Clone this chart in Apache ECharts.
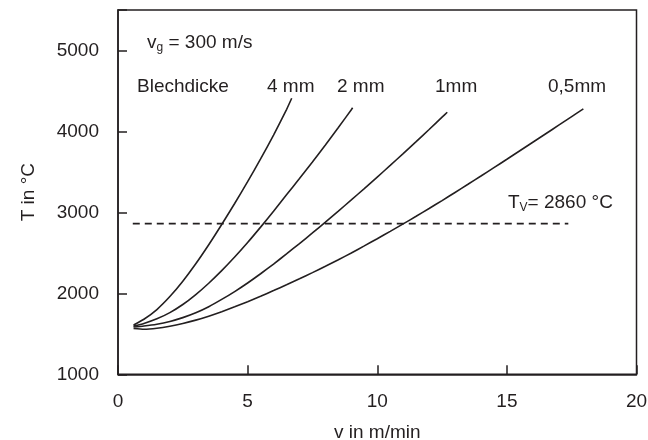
<!DOCTYPE html>
<html><head><meta charset="utf-8">
<script src="https://cdn.jsdelivr.net/npm/echarts@6/dist/echarts.min.js"></script>
<style>html,body{margin:0;padding:0;background:#fff}#c{width:648px;height:440px}</style>
</head><body><div id="c"></div>
<script>
// ---- data ----
const xMin = 0, xMax = 20, xStep = 5;
const yMin = 1000, yMax = 5500, yStep = 1000;
const yTickLabels = [1000, 2000, 3000, 4000, 5000];

const seriesNames = ['4 mm', '2 mm', '1mm', '0,5mm'];

const v4mm = [0.6, 1, 1.5, 2, 2.5, 3, 3.5, 4, 4.5, 5, 5.5, 6, 6.5, 6.7];
const t4mm = [1610, 1680, 1800, 1960, 2150, 2365, 2600, 2850, 3110, 3380, 3660, 3955, 4270, 4410];

const v2mm = [0.6, 1, 1.5, 2, 2.5, 3, 3.5, 4, 4.5, 5, 5.5, 6, 6.5, 7, 7.5, 8, 8.5, 9, 9.05];
const t2mm = [1595, 1628, 1685, 1762, 1862, 1985, 2125, 2280, 2448, 2628, 2818, 3015, 3218, 3418, 3623, 3833, 4048, 4268, 4292];

const v1mm = [0.6, 1, 1.5, 2, 2.5, 3, 3.5, 4, 4.5, 5, 5.5, 6, 6.5, 7, 7.5, 8, 8.5, 9, 9.5, 10, 10.5, 11, 11.5, 12, 12.5, 12.7];
const t1mm = [1585, 1597, 1619, 1653, 1700, 1760, 1835, 1925, 2022, 2128, 2242, 2362, 2487, 2615, 2746, 2880, 3016, 3154, 3294, 3436, 3580, 3726, 3874, 4024, 4176, 4237];

const v05mm = [0.6, 1, 1.5, 2, 2.5, 3, 3.5, 4, 4.5, 5, 5.5, 6, 6.5, 7, 7.5, 8, 8.5, 9, 9.5, 10, 10.5, 11, 11.5, 12, 12.5, 13, 13.5, 14, 14.5, 15, 15.5, 16, 16.5, 17, 17.5, 17.95];
const t05mm = [1565, 1556, 1568, 1593, 1627, 1669, 1718, 1773, 1833, 1897, 1964, 2034, 2106, 2180, 2256, 2334, 2415, 2499, 2586, 2675, 2766, 2858, 2952, 3048, 3146, 3246, 3347, 3449, 3552, 3656, 3761, 3866, 3971, 4077, 4183, 4278];

const tvStartEnd = [0.57, 17.37];
const tvValue = 2860;

// ---- chart ----
const INK = '#231f20';
const FONT = "'Liberation Sans', Arial, sans-serif";
const zip = (xs, ys) => xs.map((x, i) => [x, ys[i]]);

const curves = [[v4mm, t4mm], [v2mm, t2mm], [v1mm, t1mm], [v05mm, t05mm]];

const chart = echarts.init(document.getElementById('c'), null, {renderer: 'canvas'});
chart.setOption({
  animation: false,
  backgroundColor: '#fff',
  grid: {left: 118, right: 11.5, top: 10, bottom: 65.7, outerBoundsMode: 'none', containLabel: false,
         show: true, borderColor: INK, borderWidth: 1.5, backgroundColor: 'transparent'},
  xAxis: {
    type: 'value', min: xMin, max: xMax, interval: xStep,
    name: 'v in m/min', nameLocation: 'middle', nameGap: 49,
    nameTextStyle: {color: INK, fontSize: 19, fontFamily: FONT},
    axisLine: {lineStyle: {color: INK, width: 1.5}},
    axisTick: {inside: true, length: 9, lineStyle: {color: INK, width: 1.5}},
    axisLabel: {color: INK, fontSize: 19, fontFamily: FONT, margin: 18},
    splitLine: {show: false}
  },
  yAxis: {
    type: 'value', min: yMin, max: yMax, interval: yStep,
    name: 'T in °C', nameLocation: 'middle', nameGap: 80,
    nameTextStyle: {color: INK, fontSize: 19, fontFamily: FONT},
    axisLine: {lineStyle: {color: INK, width: 1.5}},
    axisTick: {inside: true, length: 9, lineStyle: {color: INK, width: 1.5}},
    axisLabel: {color: INK, fontSize: 19, fontFamily: FONT, margin: 19,
      formatter: v => yTickLabels.includes(v) ? String(v) : ''},
    splitLine: {show: false}
  },
  series: curves.map((c, i) => ({
    name: seriesNames[i], type: 'line', data: zip(c[0], c[1]),
    showSymbol: false, smooth: 0.2,
    lineStyle: {color: INK, width: 1.6}
  })).concat([{
    name: 'Tv', type: 'line', data: tvStartEnd.map(v => [v, tvValue]),
    showSymbol: false,
    lineStyle: {color: INK, width: 1.7, type: [7, 5]}
  }]),
  graphic: [
    {type: 'text', x: 147, y: 43, style: {
      text: '{m|v}{s|g}{m| = 300 m/s}', fill: INK, verticalAlign: 'middle',
      rich: {m: {fontSize: 19, fontFamily: FONT, fill: INK, lineHeight: 22},
             s: {fontSize: 12, fontFamily: FONT, fill: INK, lineHeight: 22, verticalAlign: 'bottom'}}}},
    {type: 'text', x: 137, y: 87, style: {text: 'Blechdicke', fontSize: 19, fontFamily: FONT, fill: INK, verticalAlign: 'middle'}},
    {type: 'text', x: 267, y: 87, style: {text: seriesNames[0], fontSize: 19, fontFamily: FONT, fill: INK, verticalAlign: 'middle'}},
    {type: 'text', x: 337, y: 87, style: {text: seriesNames[1], fontSize: 19, fontFamily: FONT, fill: INK, verticalAlign: 'middle'}},
    {type: 'text', x: 435, y: 87, style: {text: seriesNames[2], fontSize: 19, fontFamily: FONT, fill: INK, verticalAlign: 'middle'}},
    {type: 'text', x: 548, y: 87, style: {text: seriesNames[3], fontSize: 19, fontFamily: FONT, fill: INK, verticalAlign: 'middle'}},
    {type: 'text', x: 508, y: 203, style: {
      text: '{m|T}{s|V}{m|= 2860 °C}', fill: INK, verticalAlign: 'middle',
      rich: {m: {fontSize: 19, fontFamily: FONT, fill: INK, lineHeight: 22},
             s: {fontSize: 12, fontFamily: FONT, fill: INK, lineHeight: 22, verticalAlign: 'bottom'}}}}
  ]
});
</script>
</body></html>
